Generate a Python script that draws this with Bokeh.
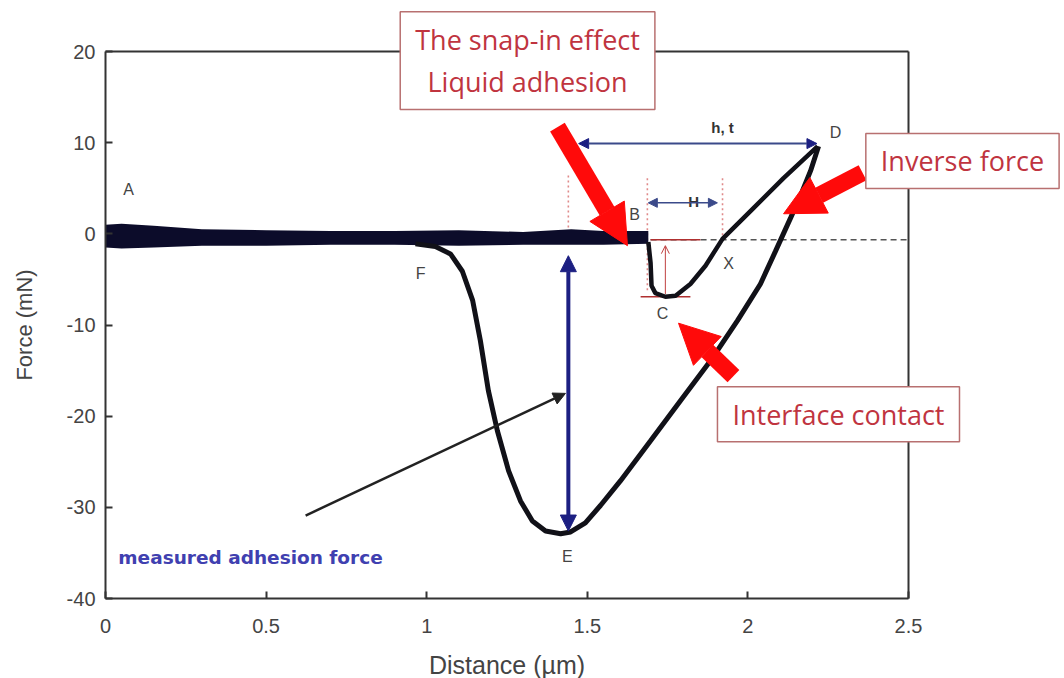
from bokeh.plotting import figure
from bokeh.models import Arrow, NormalHead, OpenHead, Label, Range1d, FixedTicker, LinearAxis
from bokeh.core.properties import value
from bokeh.embed import file_html
from bokeh.resources import INLINE

# ---------------- data ----------------
x_ticks = [0, 0.5, 1, 1.5, 2, 2.5]
x_tick_labels = ["0", "0.5", "1", "1.5", "2", "2.5"]
y_ticks = [-40, -30, -20, -10, 0, 10, 20]
y_tick_labels = ["-40", "-30", "-20", "-10", "0", "10", "20"]
x_min, x_max = 0, 2.5
y_min, y_max = -40, 20

# noisy baseline (A -> B), drawn as a band
baseline_x = [0.0, 0.05, 0.15, 0.3, 0.5, 0.7, 0.9, 1.1, 1.3, 1.45, 1.55, 1.69]
baseline_upper = [1.0, 1.1, 0.9, 0.5, 0.4, 0.3, 0.3, 0.4, 0.2, 0.5, 0.3, 0.3]
baseline_lower = [-1.5, -1.6, -1.5, -1.3, -1.3, -1.2, -1.2, -1.3, -1.2, -1.2, -1.2, -1.1]

# approach: B -> C -> X -> D
approach_x = [1.690, 1.697, 1.700, 1.712, 1.743, 1.775, 1.821, 1.868, 1.921, 2.008, 2.111, 2.217]
approach_y = [-0.9, -3.2, -5.7, -6.5, -6.9, -6.8, -5.5, -3.5, -0.55, 2.5, 6.1, 9.6]

# retraction: D -> E -> F
retract_x = [2.220, 2.195, 2.164, 2.133, 2.086, 2.039, 1.968, 1.884, 1.790, 1.697, 1.603,
             1.541, 1.494, 1.448, 1.417, 1.370, 1.329, 1.292, 1.255, 1.220, 1.192, 1.167,
             1.143, 1.111, 1.074, 1.027, 0.965]
retract_y = [9.6, 6.9, 4.2, 1.75, -1.9, -5.5, -9.5, -13.9, -18.3, -22.7, -27.1,
             -29.8, -31.7, -32.7, -32.9, -32.6, -31.5, -29.3, -26.0, -21.6, -17.2, -11.7,
             -7.3, -4.1, -2.2, -1.4, -1.1]

point_names = ["A", "B", "C", "D", "E", "F", "X"]
point_x = [0.072, 1.647, 1.734, 2.273, 1.438, 0.981, 1.940]
point_y = [4.9, 2.1, -8.7, 11.1, -35.4, -4.3, -3.2]

adhesion_force = -32.9

# ---------------- figure ----------------
# The frame fills the canvas so the call-out boxes may overlap the axes box;
# the axes are pinned at the data limits with fixed_location.
W, H = 1064, 678
left_px, right_px, top_px, bottom_px = 105, 908, 51, 598
sx = (right_px - left_px) / (x_max - x_min)
sy = (bottom_px - top_px) / (y_max - y_min)
xr = Range1d(x_min - left_px / sx, x_max + (W - right_px) / sx)
yr = Range1d(y_min - (H - bottom_px) / sy, y_max + top_px / sy)

p = figure(width=W, height=H, x_range=xr, y_range=yr,
           output_backend="svg", toolbar_location=None, min_border=0)
p.grid.visible = False
p.outline_line_color = None
p.background_fill_color = "white"
p.border_fill_color = "white"

xa, ya = p.xaxis[0], p.yaxis[0]
xa.fixed_location = y_min
xa.bounds = (x_min, x_max)
ya.fixed_location = x_min
ya.bounds = (y_min, y_max)

top_axis = LinearAxis(fixed_location=y_max, bounds=(x_min, x_max), ticker=FixedTicker(ticks=[]))
right_axis = LinearAxis(fixed_location=x_max, bounds=(y_min, y_max), ticker=FixedTicker(ticks=[]))
p.add_layout(top_axis, "above")
p.add_layout(right_axis, "right")

for ax in (xa, ya, top_axis, right_axis):
    ax.minor_tick_line_color = None
    ax.axis_line_color = "#333333"
    ax.axis_line_width = 2

for ax, ticks, labs in ((xa, x_ticks, x_tick_labels), (ya, y_ticks, y_tick_labels)):
    ax.ticker = FixedTicker(ticks=ticks)
    ax.major_label_overrides = {t: l for t, l in zip(ticks, labs)}
    ax.major_tick_in = 7
    ax.major_tick_out = 0
    ax.major_tick_line_color = "#333333"
    ax.major_tick_line_width = 2
    ax.major_label_text_font = "Liberation Sans"
    ax.major_label_text_font_size = "20px"
    ax.major_label_text_color = "#444444"
    ax.axis_label_text_font = "Liberation Sans"
    ax.axis_label_text_font_style = "normal"
    ax.axis_label_text_color = "#444444"

xa.axis_label = "Distance (µm)"
ya.axis_label = "Force (mN)"
xa.axis_label_text_font_size = "25px"
ya.axis_label_text_font_size = "22px"
xa.major_label_standoff = 20
ya.major_label_standoff = 10
xa.axis_label_standoff = 15
ya.axis_label_standoff = 27

# guide lines
p.segment(x0=[1.697], y0=[-0.65], x1=[2.5], y1=[-0.65], line_color="#555555",
          line_width=1.5, line_dash="6 4")
p.segment(x0=[1.441, 1.687, 1.921], y0=[6.4, 6.1, 6.1], x1=[1.441, 1.687, 1.921], y1=[0.0, -6.2, -0.5],
          line_color="#e08a8a", line_width=1.6, line_dash="2 3")
p.segment(x0=[1.666, 1.697], y0=[-6.9, -0.65], x1=[1.821, 1.852], y1=[-6.9, -0.65],
          line_color="#b03030", line_width=1.3)

# curves
p.varea(x=baseline_x, y1=baseline_lower, y2=baseline_upper, fill_color="#0c0c2a")
p.line(approach_x, approach_y, line_color="#111118", line_width=4.5)
p.line(retract_x, retract_y, line_color="#111118", line_width=5)

# letters
p.text(x=point_x, y=point_y, text=point_names, text_align="center", text_baseline="middle",
       text_font=value("Liberation Sans"), text_font_size="16px", text_color="#444444")
p.text(x=[1.921], y=[11.7], text=["h, t"], text_align="center", text_baseline="middle",
       text_font=value("Liberation Sans"), text_font_size="15px", text_font_style="bold",
       text_color="#333333")
p.text(x=[1.831], y=[3.6], text=["H"], text_align="center", text_baseline="middle",
       text_font=value("Liberation Sans"), text_font_size="15px", text_font_style="bold",
       text_color="#333333")
p.text(x=[0.04], y=[-35.5], text=["measured adhesion force"], text_align="left",
       text_baseline="middle", text_font=value("DejaVu Sans"), text_font_size="18.5px",
       text_font_style="bold", text_color="#4040b0")

# blue/black arrows
navy = "#1c1f82"
p.add_layout(Arrow(start=NormalHead(size=16, fill_color=navy, line_color=navy),
                   end=NormalHead(size=16, fill_color=navy, line_color=navy),
                   x_start=1.441, y_start=-2.4, x_end=1.441, y_end=adhesion_force + 0.3,
                   line_color=navy, line_width=4))
p.add_layout(Arrow(start=NormalHead(size=10, fill_color=navy, line_color=navy),
                   end=NormalHead(size=10, fill_color=navy, line_color=navy),
                   x_start=1.473, y_start=9.9, x_end=2.215, y_end=9.9,
                   line_color="#3b4a8a", line_width=2))
p.add_layout(Arrow(start=NormalHead(size=9, fill_color="#3b4a8a", line_color="#3b4a8a"),
                   end=NormalHead(size=9, fill_color="#3b4a8a", line_color="#3b4a8a"),
                   x_start=1.690, y_start=3.4, x_end=1.905, y_end=3.4,
                   line_color="#3b4a8a", line_width=1.5))
p.add_layout(Arrow(end=NormalHead(size=12, fill_color="#222222", line_color="#222222"),
                   x_start=0.623, y_start=-30.9, x_end=1.432, y_end=-17.5,
                   line_color="#222222", line_width=2.5))
p.add_layout(Arrow(end=OpenHead(size=8, line_color="#c04040", line_width=1),
                   x_start=1.743, y_start=-6.6, x_end=1.743, y_end=-1.3,
                   line_color="#c04040", line_width=1))

# red arrows
red = "#ff0a0a"
for xs, ys, xe, ye in ((1.407, 11.7, 1.625, -1.3), (2.357, 6.7, 2.111, 2.2), (1.955, -15.6, 1.784, -9.8)):
    p.add_layout(Arrow(end=NormalHead(size=40, fill_color=red, line_color=red),
                       x_start=xs, y_start=ys, x_end=xe, y_end=ye,
                       line_color=red, line_width=17))

# callout boxes
box_style = dict(text_align="center", text_baseline="middle", text_font="Open Sans",
                 text_font_size="27px", text_color="#c0343f", background_fill_color="white",
                 border_line_color="#b87070", border_line_width=1.5,
                 padding=dict(left=15, right=15, top=9, bottom=9),
                 level="overlay")
p.add_layout(Label(x=1.314, y=19.0, text="The snap-in effect\nLiquid adhesion",
                   text_line_height=1.15, **box_style))
p.add_layout(Label(x=2.668, y=8.0, text="Inverse force", **box_style))
p.add_layout(Label(x=2.282, y=-19.8, text="Interface contact", **box_style))

open("out.html", "w").write(file_html(p, INLINE))
